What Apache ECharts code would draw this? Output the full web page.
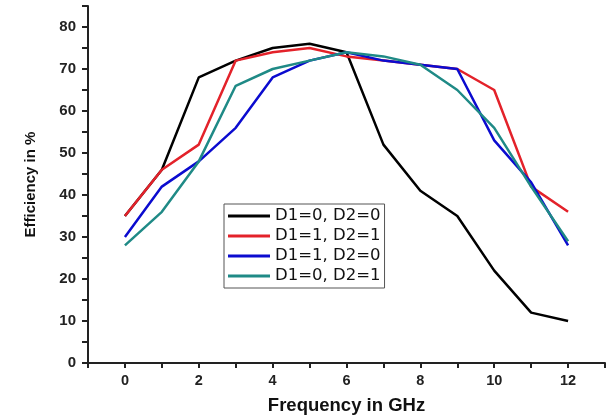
<!DOCTYPE html>
<html>
<head>
<meta charset="utf-8">
<script src="https://cdn.jsdelivr.net/npm/echarts@6/dist/echarts.min.js"></script>
<style>html,body{margin:0;padding:0;background:#fff}#c{width:611px;height:418px}</style>
</head>
<body>
<div id="c"></div>
<script>
const freq = [0,1,2,3,4,5,6,7,8,9,10,11,12];
const seriesNames = ['D1=0, D2=0','D1=1, D2=1','D1=1, D2=0','D1=0, D2=1'];
const d00 = [35,46,68,72,75,76,74,52,41,35,22,12,10];
const d11 = [35,46,52,72,74,75,73,72,71,70,65,42,36];
const d10 = [30,42,48,56,68,72,74,72,71,70,53,43,28];
const d01 = [28,36,48,66,70,72,74,73,71,65,56,42,29];
const colors = ['#000000','#e3222a','#0b0bcf','#1f8a86'];
const allData = [d00,d11,d10,d01];

const chart = echarts.init(document.getElementById('c'));
const font = 'Liberation Sans, Arial, sans-serif';
chart.setOption({
  animation:false,
  backgroundColor:'#fff',
  grid:{left:88,right:6,top:6,bottom:55,containLabel:false,outerBoundsMode:'none'},
  legend:{
    orient:'vertical',left:224,top:204,
    padding:[3,4,3,4],itemGap:2,
    borderColor:'#555',borderWidth:1,
    itemWidth:42,itemHeight:3,icon:'rect',
    textStyle:{fontFamily:'DejaVu Sans, sans-serif',fontSize:16.5,color:'#111',lineHeight:18},
    data:seriesNames
  },
  xAxis:{
    type:'value',min:-1,max:13,interval:1,
    name:'Frequency in GHz',nameLocation:'middle',nameGap:33,
    nameTextStyle:{fontFamily:font,fontWeight:'bold',fontSize:18.5,color:'#111'},
    axisLine:{show:true,onZero:false,lineStyle:{color:'#222',width:2}},
    axisTick:{show:true,inside:false,length:5,lineStyle:{color:'#222',width:2}},
    axisLabel:{margin:10,fontFamily:font,fontWeight:'bold',fontSize:14.5,color:'#222',
      formatter:v=> (v>=0 && v<=12 && v%2===0) ? String(v) : ''},
    splitLine:{show:false}
  },
  yAxis:{
    type:'value',min:0,max:85,interval:5,
    name:'Efficiency in %',nameLocation:'middle',nameGap:50,nameRotate:90,
    nameTextStyle:{fontFamily:font,fontWeight:'bold',fontSize:15,color:'#111'},
    axisLine:{show:true,onZero:false,lineStyle:{color:'#222',width:2}},
    axisTick:{show:true,inside:false,length:6,lineStyle:{color:'#222',width:2}},
    axisLabel:{margin:12,fontFamily:font,fontWeight:'bold',fontSize:15,color:'#222',
      formatter:v=> (v%10===0 && v<=80) ? String(v) : ''},
    splitLine:{show:false}
  },
  series: allData.map((d,i)=>({
    name:seriesNames[i],type:'line',
    data:freq.map((f,j)=>[f,d[j]]),
    symbol:'none',smooth:false,
    lineStyle:{color:colors[i],width:2.5},
    itemStyle:{color:colors[i]}
  }))
});
</script>
</body>
</html>
